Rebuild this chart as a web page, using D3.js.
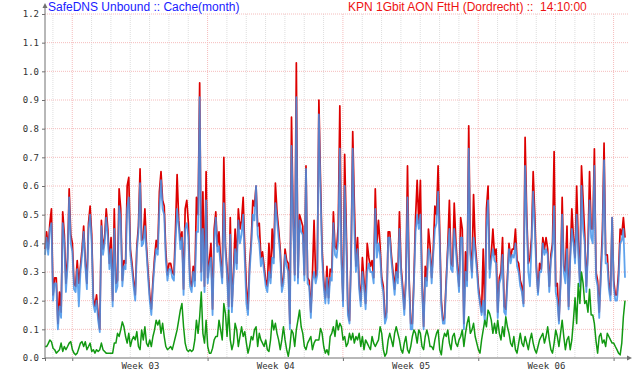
<!DOCTYPE html>
<html lang="en">
<head>
    <meta charset="UTF-8">
    <title>SafeDNS Unbound Cache (month)</title>
    <script src="https://cdn.jsdelivr.net/npm/d3@7"></script>
    <style>
        body { margin: 0; background: #fff; }
    </style>
</head>
<body>
<div id="container"></div>

<script>
// samples every 2 hours, starting 30 days before 14:10:00
let startTime = new Date(Date.UTC(2024, 0, 13, 14, 10));
let stepHours = 2;

let titleLeft = "SafeDNS Unbound :: Cache(month)";
let titleRight = "KPN 1Gbit AON FttH (Dordrecht) ::  14:10:00";

let yTicks = [0, 0.1, 0.2, 0.3, 0.4, 0.5, 0.6, 0.7, 0.8, 0.9, 1.0, 1.1, 1.2];
let weekLabels = ["Week 03", "Week 04", "Week 05", "Week 06"];

// red series (top)
let redValues = [
  .38,.44,.38,.47,.52,.22,.28,.28,.12,.23,
  .16,.51,.43,.26,.35,.59,.43,.40,.26,.25,
  .34,.26,.32,.38,.46,.34,.26,.47,.53,.43,
  .21,.18,.22,.15,.10,.48,.38,.42,.52,.45,
  .33,.42,.20,.52,.26,.27,.59,.52,.27,.34,
  .33,.60,.63,.38,.33,.27,.22,.39,.46,.66,
  .41,.42,.52,.39,.30,.22,.17,.27,.35,.41,
  .38,.58,.65,.55,.53,.37,.29,.33,.33,.30,
  .29,.45,.64,.48,.41,.44,.24,.52,.55,.47,
  .27,.25,.32,.27,.56,.50,.96,.30,.58,.25,
  .65,.28,.34,.40,.17,.45,.51,.39,.44,.34,
  .28,.70,.39,.31,.18,.49,.18,.30,.45,.33,
  .52,.45,.48,.56,.38,.25,.17,.33,.41,.55,
  .53,.60,.46,.47,.35,.37,.32,.27,.25,.40,
  .28,.45,.35,.61,.51,.45,.38,.25,.28,.38,
  .34,.33,.12,.84,.50,.29,1.03,.28,.50,.48,
  .46,.29,.67,.28,.27,.16,.29,.48,.28,.31,
  .90,.62,.38,.27,.21,.32,.21,.31,.30,.51,
  .39,.38,.46,.88,.36,.20,.71,.45,.17,.13,
  .36,.79,.54,.32,.42,.26,.20,.35,.27,.19,
  .40,.35,.32,.34,.28,.59,.40,.48,.39,.28,
  .25,.14,.16,.44,.44,.36,.30,.24,.33,.28,
  .51,.32,.25,.17,.28,.67,.28,.12,.12,.28,
  .49,.62,.47,.62,.27,.11,.32,.27,.45,.39,
  .28,.38,.53,.50,.67,.44,.20,.13,.14,.27,
  .39,.55,.33,.32,.54,.41,.32,.25,.49,.45,
  .12,.37,.27,.81,.38,.30,.57,.40,.33,.25,
  .20,.16,.38,.15,.52,.60,.31,.36,.45,.36,
  .38,.16,.28,.30,.42,.18,.17,.28,.40,.35,
  .38,.38,.45,.34,.33,.27,.25,.19,.77,.50,
  .33,.35,.42,.65,.50,.32,.23,.33,.31,.42,
  .38,.42,.38,.25,.36,.40,.72,.25,.26,.13,
  .27,.56,.32,.30,.46,.18,.36,.52,.42,.35,
  .60,.40,.27,.67,.55,.43,.25,.38,.65,.45,
  .45,.73,.30,.27,.16,.30,.45,.75,.36,.36,
  .26,.22,.49,.27,.22,.22,.30,.45,.43,.49,
  .42
];

// blue series (drawn over red)
let blueValues = [
  .36,.42,.36,.45,.47,.20,.26,.26,.10,.18,
  .14,.47,.40,.23,.32,.56,.40,.37,.24,.23,
  .31,.18,.30,.36,.44,.32,.24,.45,.50,.40,
  .19,.16,.20,.13,.09,.46,.36,.40,.49,.42,
  .31,.38,.18,.45,.23,.25,.53,.48,.25,.32,
  .31,.52,.56,.36,.31,.25,.20,.37,.44,.61,
  .39,.40,.46,.37,.28,.20,.15,.25,.33,.38,
  .36,.52,.62,.52,.50,.34,.27,.31,.31,.28,
  .27,.40,.52,.46,.38,.42,.22,.45,.47,.42,
  .25,.23,.30,.25,.44,.44,.91,.27,.45,.23,
  .55,.26,.32,.35,.15,.40,.49,.37,.39,.32,
  .26,.54,.37,.29,.16,.43,.16,.28,.38,.31,
  .48,.40,.43,.50,.34,.19,.15,.30,.39,.50,
  .48,.60,.43,.40,.32,.35,.30,.25,.23,.30,
  .26,.35,.33,.54,.48,.42,.36,.23,.26,.36,
  .32,.30,.10,.74,.48,.27,.91,.26,.48,.44,
  .43,.27,.66,.26,.25,.14,.27,.30,.26,.29,
  .85,.58,.35,.25,.19,.28,.19,.28,.27,.47,
  .36,.35,.41,.73,.33,.18,.60,.40,.15,.12,
  .34,.73,.45,.30,.38,.24,.18,.30,.25,.17,
  .30,.33,.30,.30,.26,.52,.35,.40,.36,.26,
  .23,.12,.14,.42,.42,.34,.28,.22,.30,.26,
  .45,.30,.23,.15,.26,.56,.26,.10,.10,.26,
  .44,.50,.45,.50,.25,.10,.28,.25,.38,.36,
  .26,.36,.45,.47,.58,.40,.18,.12,.12,.25,
  .37,.45,.31,.30,.45,.38,.30,.23,.42,.42,
  .10,.30,.25,.73,.36,.28,.42,.37,.31,.23,
  .19,.15,.20,.12,.45,.55,.28,.34,.38,.34,
  .33,.14,.26,.28,.36,.16,.15,.26,.38,.33,
  .36,.35,.40,.32,.30,.25,.23,.18,.67,.47,
  .30,.25,.39,.58,.45,.30,.22,.30,.30,.40,
  .36,.38,.36,.23,.34,.38,.53,.23,.20,.12,
  .25,.50,.30,.26,.38,.17,.34,.45,.40,.33,
  .50,.36,.25,.60,.45,.40,.23,.36,.55,.42,
  .40,.67,.28,.25,.14,.28,.40,.69,.33,.33,
  .24,.20,.49,.25,.20,.20,.27,.40,.41,.45,
  .28
];

// green series (bottom)
let greenValues = [
  .04,.04,.05,.063,.057,.034,.029,.017,.023,.029,
  .052,.023,.04,.029,.04,.052,.057,.029,.017,.011,
  .017,.034,.052,.057,.04,.057,.029,.04,.052,.023,
  .029,.017,.029,.023,.029,.052,.029,.023,.017,.017,
  .017,.017,.017,.052,.052,.086,.075,.098,.126,.109,
  .075,.052,.086,.04,.063,.075,.063,.092,.04,.029,
  .098,.063,.109,.052,.04,.063,.04,.075,.098,.132,
  .115,.132,.086,.121,.075,.04,.029,.034,.04,.029,
  .052,.075,.098,.132,.167,.19,.109,.052,.029,.023,
  .029,.023,.029,.063,.132,.086,.144,.23,.086,.052,
  .132,.04,.017,.017,.034,.063,.075,.075,.132,.098,
  .063,.19,.155,.075,.167,.063,.029,.052,.121,.098,
  .04,.075,.109,.075,.092,.052,.017,.04,.075,.063,
  .098,.109,.04,.086,.063,.052,.04,.063,.029,.023,
  .063,.132,.098,.121,.086,.063,.029,.063,.109,.063,
  .029,.006,.04,.098,.086,.04,.098,.132,.167,.109,
  .086,.04,.029,.052,.063,.075,.029,.052,.063,.063,
  .063,.103,.086,.04,.017,.029,.011,.075,.086,.109,
  .075,.132,.098,.121,.109,.063,.075,.04,.052,.086,
  .063,.086,.052,.075,.063,.086,.04,.075,.029,.063,
  .052,.04,.029,.075,.052,.04,.052,.063,.109,.086,
  .029,.006,.017,.063,.086,.063,.04,.086,.109,.086,
  .063,.029,.017,.052,.075,.029,.017,.04,.075,.098,
  .086,.052,.098,.086,.04,.029,.075,.098,.075,.04,
  .04,.029,.063,.086,.098,.029,.011,.063,.086,.075,
  .098,.052,.029,.075,.086,.052,.04,.063,.075,.098,
  .04,.086,.121,.144,.086,.098,.121,.075,.052,.029,
  .017,.063,.098,.132,.109,.167,.155,.132,.086,.121,
  .086,.132,.086,.063,.109,.075,.144,.109,.086,.052,
  .04,.075,.029,.017,.052,.086,.052,.04,.075,.052,
  .029,.063,.086,.052,.029,.017,.04,.063,.075,.086,
  .052,.075,.109,.063,.029,.017,.052,.098,.075,.04,
  .086,.132,.075,.029,.063,.075,.029,.063,.132,.21,
  .12,.26,.19,.30,.26,.19,.20,.16,.24,.15,
  .15,.12,.06,.017,.075,.086,.052,.063,.04,.086,
  .075,.063,.052,.052,.04,.029,.017,.011,.052,.144,
  .20
];

let W = 640, H = 380;
let plotLeft = 45, plotRight = 625, plotTop = 14, plotBottom = 358;

let svg = d3.select('#container')
    .append('svg')
    .attr('width', W)
    .attr('height', H)
    .style('display', 'block')
    .style('background-color', '#fff');

let endTime = d3.utcHour.offset(startTime, stepHours * (redValues.length - 1));

let x = d3.scaleUtc()
    .domain([startTime, endTime])
    .range([plotLeft, plotRight]);
let y = d3.scaleLinear()
    .domain([0, 1.2])
    .range([plotBottom, plotTop]);

let toPoints = vals => vals.map((v, i) => ({ t: d3.utcHour.offset(startTime, i * stepHours), v: v }));

// grid: daily grey, weekly pink, horizontal pink
let days = d3.utcDay.range(startTime, endTime);
svg.append('g').selectAll('line')
    .data(days.filter(d => d.getUTCDay() !== 1))
    .join('line')
    .attr('x1', d => x(d)).attr('x2', d => x(d))
    .attr('y1', plotTop).attr('y2', plotBottom)
    .attr('stroke', '#dedede')
    .attr('stroke-dasharray', '1,1');

let mondays = d3.utcMonday.range(startTime, endTime);
svg.append('g').selectAll('line')
    .data(mondays)
    .join('line')
    .attr('x1', d => x(d)).attr('x2', d => x(d))
    .attr('y1', plotTop).attr('y2', plotBottom)
    .attr('stroke', '#f5bcbc')
    .attr('stroke-dasharray', '1,1');

svg.append('g').selectAll('line')
    .data(yTicks.slice(1))
    .join('line')
    .attr('x1', plotLeft).attr('x2', plotRight + 3)
    .attr('y1', d => y(d)).attr('y2', d => y(d))
    .attr('stroke', '#f5bcbc')
    .attr('stroke-dasharray', '1,1');

// lines
let line = d3.line()
    .x(d => x(d.t))
    .y(d => y(d.v));

svg.append('path')
    .datum(toPoints(redValues))
    .attr('d', line)
    .attr('fill', 'none')
    .attr('stroke', '#dd0000')
    .attr('stroke-width', 1.7)
    .attr('stroke-linejoin', 'round');

svg.append('path')
    .datum(toPoints(blueValues))
    .attr('d', line)
    .attr('fill', 'none')
    .attr('stroke', '#4393ea')
    .attr('stroke-opacity', 0.85)
    .attr('stroke-width', 1.8)
    .attr('stroke-linejoin', 'round');

svg.append('path')
    .datum(toPoints(greenValues))
    .attr('d', line)
    .attr('fill', 'none')
    .attr('stroke', '#129912')
    .attr('stroke-width', 1.5)
    .attr('stroke-linejoin', 'round');

// axes
let axisColor = '#707070';
let mono = '"DejaVu Sans Mono", monospace';

let yAxis = svg.append('g')
    .attr('transform', 'translate(' + plotLeft + ',0)')
    .call(d3.axisLeft(y).tickValues(yTicks).tickSize(3).tickPadding(3).tickFormat(d3.format('.1f')));
yAxis.select('.domain').remove();
yAxis.selectAll('line').attr('stroke', axisColor);
yAxis.selectAll('text').attr('font-family', mono).attr('font-size', 9).attr('fill', '#333');

let xAxis = svg.append('g')
    .attr('transform', 'translate(0,' + plotBottom + ')')
    .call(d3.axisBottom(x).tickValues([startTime].concat(mondays)).tickSize(3).tickFormat(''));
xAxis.select('.domain').remove();
xAxis.selectAll('line').attr('stroke', axisColor);

let midWeeks = mondays.slice(0, weekLabels.length).map(d => d3.utcHour.offset(d, 84));
let xLabels = svg.append('g')
    .attr('transform', 'translate(0,' + plotBottom + ')')
    .call(d3.axisBottom(x).tickValues(midWeeks).tickSize(0).tickPadding(5).tickFormat((d, i) => weekLabels[i]));
xLabels.select('.domain').remove();
xLabels.selectAll('text').attr('font-family', mono).attr('font-size', 9).attr('fill', '#333');

// axis lines with arrows
svg.append('line')
    .attr('x1', plotLeft).attr('x2', plotLeft)
    .attr('y1', plotBottom).attr('y2', 7)
    .attr('stroke', axisColor);
svg.append('path')
    .attr('d', 'M' + (plotLeft - 2.5) + ',8 L' + plotLeft + ',3 L' + (plotLeft + 2.5) + ',8 Z')
    .attr('fill', axisColor);
svg.append('line')
    .attr('x1', plotLeft).attr('x2', 628)
    .attr('y1', plotBottom).attr('y2', plotBottom)
    .attr('stroke', axisColor);
svg.append('path')
    .attr('d', 'M627,' + (plotBottom - 2.5) + ' L632,' + plotBottom + ' L627,' + (plotBottom + 2.5) + ' Z')
    .attr('fill', axisColor);

// titles
svg.append('text')
    .attr('x', 48).attr('y', 11)
    .text(titleLeft)
    .attr('font-family', '"Liberation Sans", Arial, sans-serif')
    .attr('font-size', 12)
    .attr('fill', '#1a1aff');
svg.append('text')
    .attr('x', 348).attr('y', 11)
    .style('white-space', 'pre')
    .text(titleRight)
    .attr('font-family', '"Liberation Sans", Arial, sans-serif')
    .attr('font-size', 12)
    .attr('fill', '#ee1111');
</script>
</body>
</html>
